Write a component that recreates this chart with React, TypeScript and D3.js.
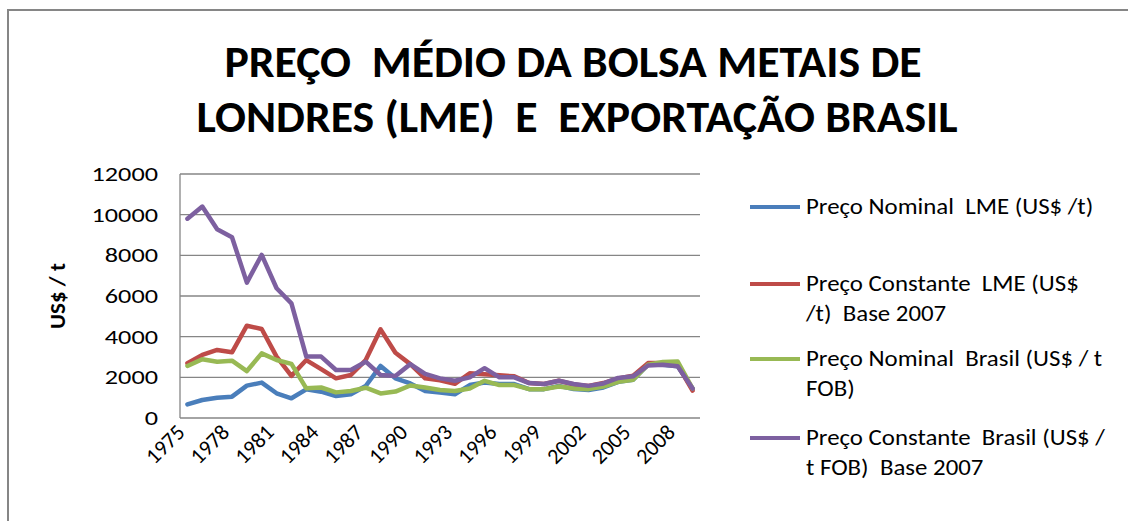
import React from "react";
import * as d3 from "d3";

const years: number[] = [
  1975, 1976, 1977, 1978, 1979, 1980, 1981, 1982, 1983, 1984, 1985, 1986, 1987, 1988, 1989, 1990, 1991, 1992,
  1993, 1994, 1995, 1996, 1997, 1998, 1999, 2000, 2001, 2002, 2003, 2004, 2005, 2006, 2007, 2008, 2009,
];
const tickYears: number[] = [1975, 1978, 1981, 1984, 1987, 1990, 1993, 1996, 1999, 2002, 2005, 2008];
const yTicks: number[] = [0, 2000, 4000, 6000, 8000, 10000, 12000];

const nominalLME: number[] = [
  670, 885, 1000, 1050, 1590, 1740, 1215, 970, 1410, 1295, 1080, 1165, 1575, 2560, 1950, 1700, 1330, 1250,
  1170, 1620, 1750, 1670, 1670, 1420, 1420, 1580, 1420, 1380, 1500, 1780, 1880, 2620, 2620, 2550, 1450,
];
const constanteLME: number[] = [
  2690, 3100, 3345, 3230, 4540, 4380, 3020, 2070, 2850, 2400, 1950, 2115, 2850, 4360, 3210, 2650, 1950, 1850,
  1680, 2200, 2150, 2100, 2050, 1720, 1670, 1830, 1650, 1580, 1720, 1950, 2080, 2700, 2700, 2600, 1350,
];
const nominalBrasil: number[] = [
  2560, 2890, 2770, 2820, 2310, 3180, 2850, 2660, 1460, 1500, 1260, 1330, 1490, 1210, 1300, 1600, 1500, 1380,
  1330, 1450, 1830, 1620, 1620, 1420, 1420, 1550, 1450, 1420, 1550, 1780, 1880, 2620, 2750, 2780, 1450,
];
const constanteBrasil: number[] = [
  9800, 10400, 9280, 8890, 6660, 8020, 6380, 5640, 3020, 3020, 2360, 2360, 2770, 2115, 2070, 2650, 2170, 1950,
  1830, 2000, 2450, 2000, 2000, 1720, 1670, 1830, 1670, 1580, 1700, 1970, 2050, 2580, 2620, 2550, 1450,
];

const seriesNames: string[][] = [
  ["Preço Nominal  LME (US$ /t)"],
  ["Preço Constante  LME (US$", "/t)  Base 2007"],
  ["Preço Nominal  Brasil (US$ / t", "FOB)"],
  ["Preço Constante  Brasil (US$ /", "t FOB)  Base 2007"],
];
const seriesValues: number[][] = [nominalLME, constanteLME, nominalBrasil, constanteBrasil];
const colors: string[] = ["#4A7EBB", "#BE4B48", "#98B954", "#7D60A0"];

const W = 1128;
const H = 521;
const plot = { left: 180, right: 700, top: 174, bottom: 418 };
const legendLineY = [207, 284, 359, 438];
const FONT = "Carlito, Calibri, 'Open Sans', 'Liberation Sans', sans-serif";

export default function App() {
  const x = d3.scaleBand<number>().domain(years).range([plot.left, plot.right]);
  const cx = (yr: number) => (x(yr) as number) + x.bandwidth() / 2;
  const y = d3.scaleLinear().domain([0, 12000]).range([plot.bottom, plot.top]);
  const line = d3
    .line<number>()
    .x((_, i) => cx(years[i]))
    .y((v) => y(v));

  return (
    <svg
      width={W}
      height={H}
      style={{ position: "absolute", left: 0, top: 0, background: "#fff", whiteSpace: "pre" }}
      fontFamily={FONT}
    >
      <rect x={0} y={0} width={W} height={H} fill="#fff" />
      <rect x={8} y={10} width={W + 20} height={H + 20} fill="none" stroke="#868686" strokeWidth={2} />

      <g transform="translate(573,77) scale(1.04,1)">
        <text x={0} y={0} textAnchor="middle" fontSize={44} fontWeight="bold" fill="#000" style={{ whiteSpace: "pre" }}>
          PREÇO  MÉDIO DA BOLSA METAIS DE
        </text>
      </g>
      <g transform="translate(577,132) scale(1.04,1)">
        <text x={0} y={0} textAnchor="middle" fontSize={44} fontWeight="bold" fill="#000" style={{ whiteSpace: "pre" }}>
          LONDRES (LME)  E  EXPORTAÇÃO BRASIL
        </text>
      </g>

      {yTicks.map((t) => (
        <g key={t}>
          <line x1={plot.left} x2={plot.right} y1={y(t)} y2={y(t)} stroke="#868686" strokeWidth={1.3} />
          <g transform={`translate(158,${y(t) + 7}) scale(1.25,1)`}>
            <text x={0} y={0} textAnchor="end" fontSize={21} fill="#000">
              {t}
            </text>
          </g>
        </g>
      ))}
      <line x1={plot.left} x2={plot.left} y1={plot.top} y2={plot.bottom} stroke="#868686" strokeWidth={1.3} />

      {tickYears.map((yr) => (
        <text
          key={yr}
          transform={`translate(${cx(yr) - 13},${422}) rotate(-45)`}
          textAnchor="end"
          fontSize={22}
          fill="#000"
          dy="0.75em"
        >
          {yr}
        </text>
      ))}

      <text transform={`translate(65,296) rotate(-90)`} textAnchor="middle" fontSize={23} fontWeight="bold" fill="#000">
        US$ / t
      </text>

      {seriesValues.map((vals, i) => (
        <path
          key={i}
          d={line(vals) || ""}
          fill="none"
          stroke={colors[i]}
          strokeWidth={4.5}
          strokeLinejoin="round"
          strokeLinecap="round"
        />
      ))}

      {seriesNames.map((lines, i) => (
        <g key={i}>
          <line x1={750} x2={800} y1={legendLineY[i]} y2={legendLineY[i]} stroke={colors[i]} strokeWidth={4} />
          {lines.map((s, j) => (
            <g key={j} transform={`translate(806,${legendLineY[i] + 7 + j * 30}) scale(1.13,1)`}>
              <text x={0} y={0} fontSize={22} fill="#000" style={{ whiteSpace: "pre" }}>
                {s}
              </text>
            </g>
          ))}
        </g>
      ))}
    </svg>
  );
}
